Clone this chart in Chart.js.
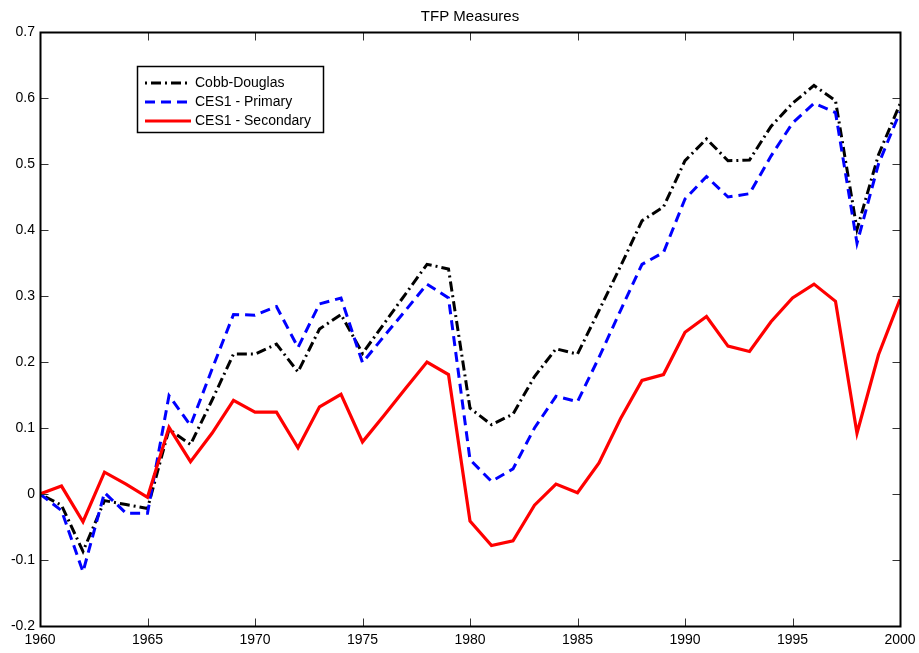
<!DOCTYPE html>
<html>
<head>
<meta charset="utf-8">
<title>TFP Measures</title>
<script src="https://cdn.jsdelivr.net/npm/chart.js@4/dist/chart.umd.min.js"></script>
<style>
  html, body { margin: 0; padding: 0; background: #fff; }
  canvas { display: block; }
</style>
</head>
<body>
<canvas id="tfp" width="919" height="653"></canvas>
<script>
// Years of the sample
const years = [
  1960, 1961, 1962, 1963, 1964, 1965, 1966, 1967, 1968, 1969,
  1970, 1971, 1972, 1973, 1974, 1975, 1976, 1977, 1978, 1979,
  1980, 1981, 1982, 1983, 1984, 1985, 1986, 1987, 1988, 1989,
  1990, 1991, 1992, 1993, 1994, 1995, 1996, 1997, 1998, 1999, 2000
];

// TFP series (log level, 1960 = 0)
const cobbDouglas = [
  0.000, -0.017, -0.087, -0.010, -0.016, -0.022, 0.098, 0.075, 0.142, 0.212,
  0.212, 0.227, 0.185, 0.250, 0.272, 0.213, 0.258, 0.303, 0.348, 0.341,
  0.130, 0.105, 0.121, 0.178, 0.220, 0.212, 0.278, 0.345, 0.414, 0.435,
  0.505, 0.538, 0.505, 0.506, 0.557, 0.592, 0.619, 0.596, 0.401, 0.514, 0.591
];
const ces1Primary = [
  0.000, -0.025, -0.118, 0.002, -0.029, -0.029, 0.149, 0.104, 0.189, 0.272,
  0.271, 0.284, 0.222, 0.288, 0.297, 0.199, 0.239, 0.278, 0.318, 0.297,
  0.052, 0.019, 0.038, 0.100, 0.148, 0.140, 0.207, 0.278, 0.348, 0.366,
  0.447, 0.481, 0.450, 0.455, 0.512, 0.562, 0.592, 0.578, 0.380, 0.500, 0.579
];
const ces1Secondary = [
  0.000, 0.012, -0.042, 0.033, 0.015, -0.005, 0.101, 0.049, 0.092, 0.142,
  0.124, 0.124, 0.070, 0.132, 0.151, 0.079, 0.119, 0.160, 0.200, 0.181,
  -0.041, -0.078, -0.071, -0.017, 0.015, 0.002, 0.047, 0.114, 0.172, 0.181,
  0.245, 0.269, 0.224, 0.216, 0.261, 0.297, 0.318, 0.292, 0.092, 0.211, 0.295
];

// Axis tick values
const xTicks = [1960, 1965, 1970, 1975, 1980, 1985, 1990, 1995, 2000];
const yTicks = [-0.2, -0.1, 0, 0.1, 0.2, 0.3, 0.4, 0.5, 0.6, 0.7];

const chartTitle = 'TFP Measures';
const FONT = '"Liberation Sans", Arial, Helvetica, sans-serif';

const toPoints = vals => years.map((yr, i) => ({ x: yr, y: vals[i] }));

// Boxed axes with ticks pointing inward on all four sides, plus the title
const framePlugin = {
  id: 'frame',
  afterDatasetsDraw(chart) {
    const { ctx, chartArea: a, scales } = chart;
    const L = Math.round(a.left) + 0.5, R = Math.round(a.right) + 0.5;
    const T = Math.round(a.top) + 0.5, B = Math.round(a.bottom) + 0.5;
    const len = 8;
    ctx.save();
    ctx.strokeStyle = '#333';
    ctx.lineWidth = 1;
    ctx.beginPath();
    xTicks.forEach(v => {
      const px = Math.round(scales.x.getPixelForValue(v)) + 0.5;
      ctx.moveTo(px, B); ctx.lineTo(px, B - len);
      ctx.moveTo(px, T); ctx.lineTo(px, T + len);
    });
    yTicks.forEach(v => {
      const py = Math.round(scales.y.getPixelForValue(v)) + 0.5;
      ctx.moveTo(L, py); ctx.lineTo(L + len, py);
      ctx.moveTo(R, py); ctx.lineTo(R - len, py);
    });
    ctx.stroke();
    ctx.strokeStyle = '#000';
    ctx.lineWidth = 2;
    ctx.strokeRect(L, T, R - L, B - T);

    ctx.fillStyle = '#000';
    ctx.font = '15px ' + FONT;
    ctx.textAlign = 'center';
    ctx.textBaseline = 'alphabetic';
    ctx.fillText(chartTitle, (a.left + a.right) / 2, 21);
    ctx.restore();
  }
};

// Boxed legend with line samples
const legendPlugin = {
  id: 'lineLegend',
  afterDraw(chart) {
    const { ctx } = chart;
    const box = { x: 137.5, y: 66.5, w: 186, h: 66 };
    ctx.save();
    ctx.fillStyle = '#fff';
    ctx.fillRect(box.x, box.y, box.w, box.h);
    ctx.strokeStyle = '#000';
    ctx.lineWidth = 1.5;
    ctx.strokeRect(box.x, box.y, box.w, box.h);
    const rows = [83, 102, 121];
    chart.data.datasets.forEach((ds, i) => {
      const y = rows[i];
      ctx.beginPath();
      ctx.strokeStyle = ds.borderColor;
      ctx.lineWidth = ds.borderWidth;
      ctx.setLineDash(ds.borderDash || []);
      ctx.lineCap = 'butt';
      ctx.moveTo(145, y);
      ctx.lineTo(191, y);
      ctx.stroke();
      ctx.setLineDash([]);
      ctx.fillStyle = '#000';
      ctx.font = '14px ' + FONT;
      ctx.textAlign = 'left';
      ctx.textBaseline = 'middle';
      ctx.fillText(ds.label, 195, y);
    });
    ctx.restore();
  }
};

new Chart(document.getElementById('tfp'), {
  type: 'line',
  data: {
    datasets: [
      {
        label: 'Cobb-Douglas',
        data: toPoints(cobbDouglas),
        borderColor: '#000000',
        borderWidth: 3,
        borderDash: [2, 4, 10, 4],
        order: 3
      },
      {
        label: 'CES1 - Primary',
        data: toPoints(ces1Primary),
        borderColor: '#0000ff',
        borderWidth: 3,
        borderDash: [10, 6],
        order: 2
      },
      {
        label: 'CES1 - Secondary',
        data: toPoints(ces1Secondary),
        borderColor: '#ff0000',
        borderWidth: 3.2,
        order: 1
      }
    ]
  },
  options: {
    responsive: false,
    animation: false,
    events: [],
    layout: { padding: { top: 32, right: 19, left: 0, bottom: 0 } },
    elements: {
      point: { radius: 0 },
      line: { tension: 0, fill: false, borderCapStyle: 'butt', borderJoinStyle: 'miter' }
    },
    plugins: {
      legend: { display: false },
      title: { display: false },
      tooltip: { enabled: false }
    },
    scales: {
      x: {
        type: 'linear',
        min: 1960,
        max: 2000,
        grid: { display: false, drawTicks: false },
        border: { display: false },
        afterBuildTicks: s => { s.ticks = xTicks.map(v => ({ value: v })); },
        afterFit: s => { s.height = 27; s.paddingLeft = 0; s.paddingRight = 0; },
        ticks: {
          padding: 6,
          maxRotation: 0,
          color: '#000',
          font: { family: FONT, size: 14 },
          callback: v => String(v)
        }
      },
      y: {
        type: 'linear',
        min: -0.2,
        max: 0.7,
        grid: { display: false, drawTicks: false },
        border: { display: false },
        afterBuildTicks: s => { s.ticks = yTicks.map(v => ({ value: v })); },
        afterFit: s => { s.width = 40; s.paddingTop = 0; s.paddingBottom = 0; },
        ticks: {
          padding: 5,
          color: '#000',
          font: { family: FONT, size: 14 },
          callback: v => {
            const r = Math.round(v * 10) / 10;
            return r === 0 ? '0' : String(r);
          }
        }
      }
    }
  },
  plugins: [framePlugin, legendPlugin]
});
</script>
</body>
</html>
